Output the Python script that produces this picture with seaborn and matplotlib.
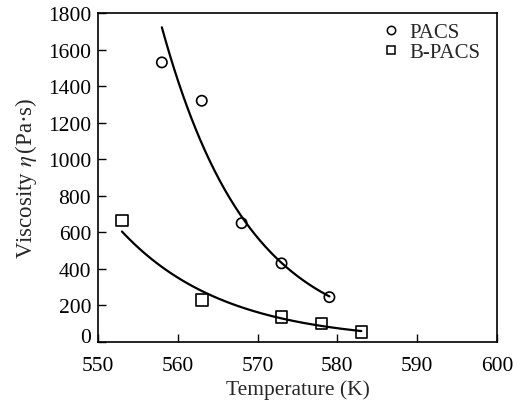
import numpy as np
import pandas as pd
import matplotlib
matplotlib.use("Agg")
import matplotlib.pyplot as plt
import matplotlib.transforms as mtransforms
import seaborn as sns
from matplotlib.lines import Line2D

# Data
pacs_T = [558, 563, 568, 573, 579]
pacs_eta = [1530, 1320, 650, 430, 245]
bpacs_T = [553, 563, 573, 578, 583]
bpacs_eta = [665, 228, 135, 100, 55]

x_ticks = [550, 560, 570, 580, 590, 600]
y_ticks = [0, 200, 400, 600, 800, 1000, 1200, 1400, 1600, 1800]

sns.set_style("ticks")
plt.rcParams['font.family'] = ['Liberation Serif', 'DejaVu Serif']
plt.rcParams['mathtext.fontset'] = 'stix'

fig = plt.figure(figsize=(5.27, 4.02), dpi=100)
ax = fig.add_axes([0.186, 0.147, 0.757, 0.818])

def exp_fit(T, eta):
    T = np.asarray(T, float)
    b, a = np.polyfit(T, np.log(eta), 1)
    tt = np.linspace(T.min(), T.max(), 200)
    return tt, np.exp(a + b * tt)

for T, eta in [(pacs_T, pacs_eta), (bpacs_T, bpacs_eta)]:
    tt, ff = exp_fit(T, eta)
    sns.lineplot(x=tt, y=ff, ax=ax, color='black', linewidth=1.6, legend=False)

sns.scatterplot(x=pacs_T, y=pacs_eta, ax=ax, marker='o', s=55,
                facecolor='none', edgecolor='black', linewidth=1.2, zorder=3)
sns.scatterplot(x=bpacs_T, y=bpacs_eta, ax=ax, marker='s', s=70,
                facecolor='none', edgecolor='black', linewidth=1.2, zorder=3)

ax.set_xlim(550, 600)
ax.set_ylim(0, 1800)
ax.set_xticks(x_ticks)
ax.set_yticks(y_ticks)
ax.tick_params(direction='in', length=6, width=1, labelsize=15.5, colors='black')
ax.tick_params(axis='x', pad=10)
ax.tick_params(axis='y', pad=5)
for s in ax.spines.values():
    s.set_linewidth(1.2)
    s.set_color('black')

# lift the "0" label slightly, as in the reference
lbl0 = ax.get_yticklabels()[0]
lbl0.set_transform(lbl0.get_transform() +
                   mtransforms.ScaledTranslation(0, 5 / 72, fig.dpi_scale_trans))

ax.set_xlabel('Temperature (K)', fontsize=15.5, labelpad=3)
ax.set_ylabel(r'Viscosity $\mathit{\eta}\,$(Pa·s)', fontsize=16.5, labelpad=6)

handles = [Line2D([], [], marker='o', linestyle='none', markerfacecolor='none',
                  markeredgecolor='black', markersize=6, markeredgewidth=1.1),
           Line2D([], [], marker='s', linestyle='none', markerfacecolor='none',
                  markeredgecolor='black', markersize=6, markeredgewidth=1.1)]
ax.legend(handles, ['PACS', 'B-PACS'], loc='upper right', frameon=False,
          fontsize=15, handlelength=0.8, handletextpad=0.5, labelspacing=0.05,
          borderaxespad=0.2, bbox_to_anchor=(0.99, 1.01))

fig.savefig('out.png', dpi=100)
